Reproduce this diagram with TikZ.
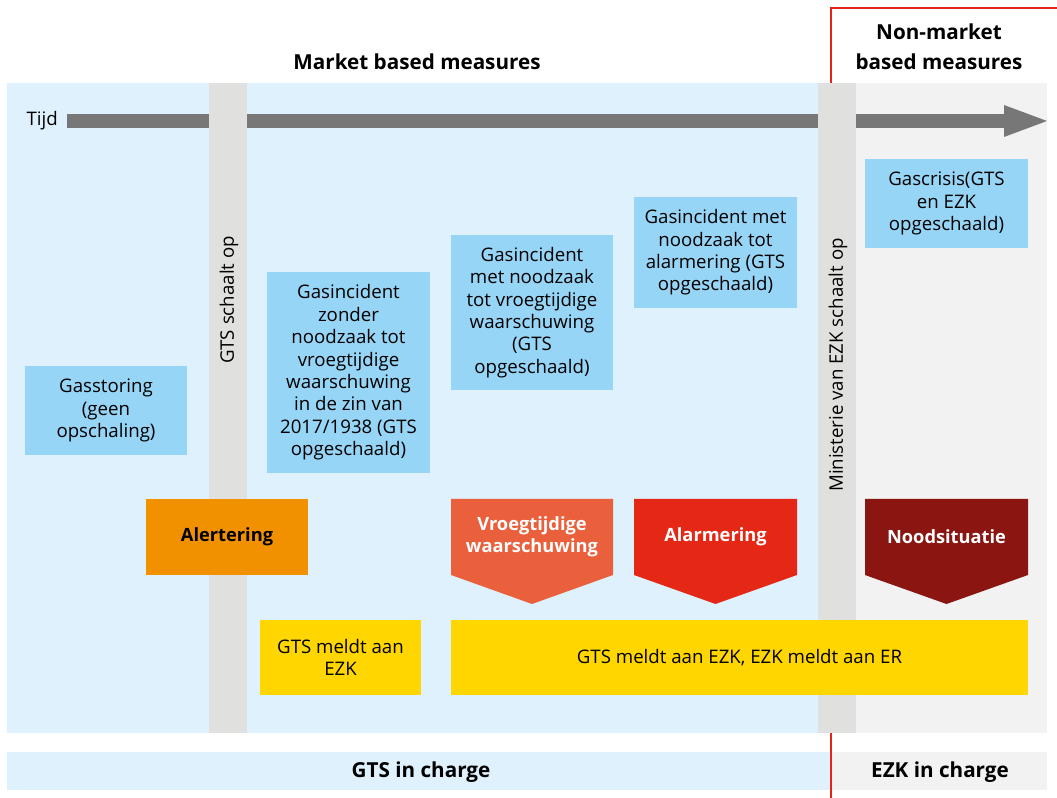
\documentclass[tikz,border=0pt]{standalone}
\usepackage{fontspec}
\setmainfont{Open Sans}
\definecolor{panelblue}{HTML}{DFF1FC}
\definecolor{panelgray}{HTML}{F2F2F2}
\definecolor{bargray}{HTML}{E0E0DF}
\definecolor{arrowgray}{HTML}{777777}
\definecolor{boxblue}{HTML}{97D5F6}
\definecolor{lvyellow}{HTML}{FFD600}
\definecolor{lvorange}{HTML}{F29100}
\definecolor{lvvroeg}{HTML}{EB603C}
\definecolor{lvalarm}{HTML}{E52815}
\definecolor{lvnood}{HTML}{8A1511}
\definecolor{redline}{HTML}{E3241B}
\begin{document}
\begin{tikzpicture}[x=0.75pt,y=-0.75pt,
  txt/.style={font=\fontsize{14}{16.8}\selectfont, align=center, inner sep=0pt},
  btxt/.style={font=\bfseries\fontsize{13.7}{16.8}\selectfont, align=center, inner sep=0pt},
  htxt/.style={font=\bfseries\fontsize{15.5}{22.5}\selectfont, align=center, inner sep=0pt},
  infobox/.style={txt, fill=boxblue, minimum width=122pt},
  yellowbox/.style={txt, fill=lvyellow, minimum height=56.25pt},
  redrule/.style={draw=redline, line width=1.6pt},
]
\useasboundingbox (0,0) rectangle (1057,798);
\fill[white] (0,0) rectangle (1057,798);
% red line (upper part, hidden behind the panel)
\draw[redrule] (831,740) -- (831,8) -- (1057,8);
% panels
\fill[panelblue] (7,83) rectangle (818,733);
\fill[panelgray] (856,83) rectangle (1047,733);
% time arrow
\fill[arrowgray] (67,114) rectangle (1004,128);
\fill[arrowgray] (1004,105) -- (1047,121) -- (1004,137) -- cycle;
\node[txt, anchor=east] (tijd) at (58,121) {Tijd};
% vertical bars
\fill[bargray] (209,83) rectangle (247,733);
\fill[bargray] (818,83) rectangle (856,733);
\node[txt, rotate=90] (gtsop) at (229,300) {GTS schaalt op};
\node[txt, rotate=90] (ezkop) at (838,365) {Ministerie van EZK schaalt op};
% headers
\node[htxt] (mbm) at (417,62) {Market based measures};
\node[htxt] (nmbm) at (939,47) {Non-market\\based measures};
% info boxes
\node[infobox, minimum height=66.75pt] (gasstoring) at (106,410.5) {Gasstoring\\(geen\\opschaling)};
\node[infobox, minimum height=150.75pt] (zonder) at (348.5,372.5) {Gasincident\\zonder\\noodzaak tot\\vroegtijdige\\waarschuwing\\in de zin van\\2017/1938 (GTS\\opgeschaald)};
\node[infobox, minimum height=116.25pt] (metvroeg) at (532,312.5) {Gasincident\\met noodzaak\\tot vroegtijdige\\waarschuwing\\(GTS\\opgeschaald)};
\node[infobox, minimum height=83.25pt] (metalarm) at (715.5,252.5) {Gasincident met\\noodzaak tot\\alarmering (GTS\\opgeschaald)};
\node[infobox, minimum height=66.75pt] (gascrisis) at (946.5,203.5) {Gascrisis(GTS\\en EZK\\opgeschaald)};
% levels
\fill[lvorange] (146,499) rectangle (308,575);
\node[btxt] (alert) at (227,537) {Alertering};
\fill[lvvroeg] (451,499) -- (613,499) -- (613,575) -- (532,604) -- (451,575) -- cycle;
\node[btxt, text=white] (vroeg) at (532,537) {Vroegtijdige\\waarschuwing};
\fill[lvalarm] (634,499) -- (797,499) -- (797,575) -- (715.5,604) -- (634,575) -- cycle;
\node[btxt, text=white] (alarm) at (715.5,537) {Alarmering};
\fill[lvnood] (865,499) -- (1028,499) -- (1028,575) -- (946.5,604) -- (865,575) -- cycle;
\node[btxt, text=white] (nood) at (946.5,537) {Noodsituatie};
% yellow boxes
\node[yellowbox, minimum width=120.75pt] (meld1) at (340.5,657.5) {GTS meldt aan\\EZK};
\node[yellowbox, minimum width=432.75pt] (meld2) at (739.5,657.5) {GTS meldt aan EZK, EZK meldt aan ER};
% bottom bars
\fill[panelblue] (7,752) rectangle (832,790);
\fill[panelgray] (832,752) rectangle (1047,790);
\node[htxt] (gtscharge) at (421,772) {GTS in charge};
\node[htxt] (ezkcharge) at (940,772) {EZK in charge};
% red line (lower part, over the bottom bars)
\draw[redrule] (831,733) -- (831,798);
\end{tikzpicture}
\end{document}
